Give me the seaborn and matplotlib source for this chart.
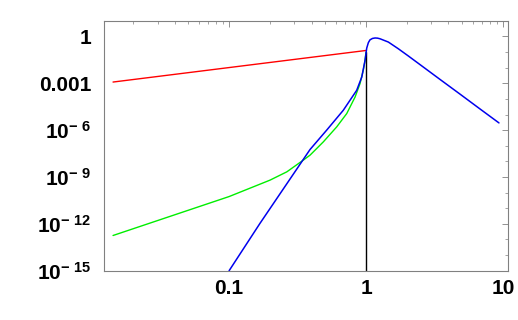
import numpy as np
import pandas as pd
import seaborn as sns
import matplotlib
matplotlib.use("Agg")
import matplotlib.pyplot as plt
from matplotlib.ticker import FixedLocator, FixedFormatter

# kurvor
red_x = [0.0142, 1.0]
red_y = [1.2e-3, 0.126]

green_x = [0.0142, 0.1, 0.199, 0.264, 0.348, 0.390, 0.488, 0.611, 0.723, 0.832, 0.904,
           0.955, 0.984, 1.0]
green_y = [1.8e-13, 5.6e-11, 6.3e-10, 2.14e-9, 1.2e-8, 2.5e-8, 1.78e-7, 1.62e-6, 1.15e-5,
           1.32e-4, 9.5e-4, 6.8e-3, 0.0295, 0.1]

blue_x = [0.1, 0.168, 0.390, 0.516, 0.682, 0.855, 0.931, 0.984, 1.012, 1.040, 1.069,
          1.114, 1.164, 1.213, 1.265, 1.455, 1.722, 2.037, 2.477, 3.467, 4.853, 6.792, 9.354]
blue_y = [1e-15, 1.07e-12, 5.75e-8, 1e-6, 1.86e-5, 3.55e-4, 2.51e-3, 0.0295, 0.178,
          0.398, 0.603, 0.741, 0.794, 0.776, 0.708, 0.437, 0.162, 0.056, 0.0158, 1.78e-3,
          2.04e-4, 2.29e-5, 2.9e-6]

black_x = [1.0, 1.0]
black_y = [1e-15, 0.1]

xticks = [0.1, 1, 10]
xlabels = ["0.1", "1", "10"]
yticks = [1e-15, 1e-12, 1e-9, 1e-6, 1e-3, 1]
ylabels = [r"$10^{-\ 15}$", r"$10^{-\ 12}$", r"$10^{-\ 9}$", r"$10^{-\ 6}$", "0.001", "1"]

sns.set_style("white")
plt.rcParams["font.family"] = ["Liberation Sans", "DejaVu Sans"]
plt.rcParams["mathtext.fontset"] = "custom"
plt.rcParams["mathtext.rm"] = "Liberation Sans:bold"
plt.rcParams["mathtext.bf"] = "Liberation Sans:bold"
plt.rcParams["mathtext.default"] = "bf"

fig = plt.figure(figsize=(5.18, 3.2), dpi=100)
ax = fig.add_axes([0.2008, 0.154, 0.78, 0.781])

sns.lineplot(x=red_x, y=red_y, color="#ff0000", lw=1, ax=ax, estimator=None, sort=False)
sns.lineplot(x=green_x, y=green_y, color="#00ee00", lw=1, ax=ax, estimator=None, sort=False)
sns.lineplot(x=black_x, y=black_y, color="black", lw=1, ax=ax, estimator=None, sort=False)
sns.lineplot(x=blue_x, y=blue_y, color="#0000ee", lw=1.1, ax=ax, estimator=None, sort=False)

ax.set_xscale("log")
ax.set_yscale("log")
ax.set_xlim(0.0122, 10.9)
ax.set_ylim(1e-15, 10)

ax.xaxis.set_major_locator(FixedLocator(xticks))
ax.xaxis.set_major_formatter(FixedFormatter(xlabels))
minx = [m * 10.0 ** e for e in range(-2, 1) for m in range(2, 10)]
ax.xaxis.set_minor_locator(FixedLocator(minx))
ax.yaxis.set_major_locator(FixedLocator(yticks))
ax.yaxis.set_major_formatter(FixedFormatter(ylabels))
ax.yaxis.set_minor_locator(FixedLocator([10.0 ** e for e in range(-15, 1)]))
ax.yaxis.set_minor_formatter(FixedFormatter([]))
ax.xaxis.set_minor_formatter(FixedFormatter([]))

ax.tick_params(which="both", direction="in", top=True, right=True, color="#808080")
ax.tick_params(which="major", length=4, width=0.6)
ax.tick_params(which="minor", length=2, width=0.5)
ax.tick_params(axis="both", labelsize=15, labelcolor="black")
ax.tick_params(axis="y", pad=9)
ax.tick_params(axis="x", pad=6)
for lab in ax.get_xticklabels() + ax.get_yticklabels():
    lab.set_fontweight("bold")
for s in ax.spines.values():
    s.set_color("#808080")
    s.set_linewidth(0.8)
ax.set_xlabel("")
ax.set_ylabel("")

fig.savefig("out.png", dpi=100)
